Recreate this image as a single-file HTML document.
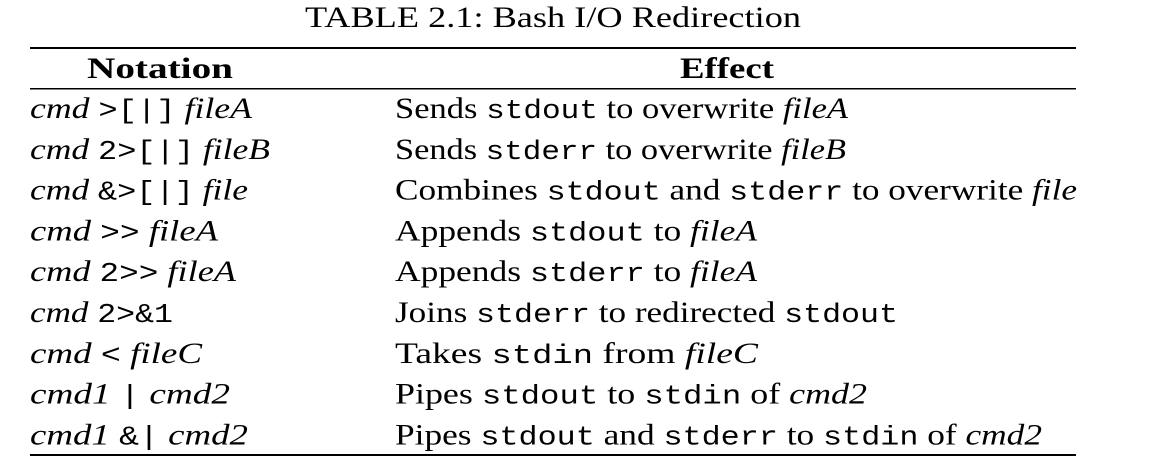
<!DOCTYPE html>
<html><head><meta charset="utf-8"><style>
html,body{margin:0;padding:0;background:#fff;}
svg{display:block;}
.s{font-family:"Liberation Serif",serif;font-size:30px;fill:#000;white-space:pre;}
.i{font-style:italic;}
.m{font-family:"Liberation Mono",monospace;font-size:27px;}
.b{font-weight:bold;}
</style></head><body>
<svg width="1156" height="471" viewBox="0 0 1156 471">
<text class="s" x="305" y="27" textLength="496" lengthAdjust="spacingAndGlyphs">TABLE 2.1: Bash I/O Redirection</text>
<rect x="30" y="47" width="1046" height="2" fill="#000"/>
<text class="s b" x="87" y="78" textLength="146" lengthAdjust="spacingAndGlyphs">Notation</text>
<text class="s b" x="680" y="78" textLength="94" lengthAdjust="spacingAndGlyphs">Effect</text>
<rect x="30" y="88" width="1046" height="1.5" fill="#000"/>
<g id="rows"></g>
<rect x="30" y="454" width="1046" height="2" fill="#000"/>
</svg>
<script>
// segments: [text, class]
const notations = [
 [["cmd","i"],[" ",""],[">[|]","m"],[" ",""],["fileA","i"]],
 [["cmd","i"],[" ",""],["2>[|]","m"],[" ",""],["fileB","i"]],
 [["cmd","i"],[" ",""],["&>[|]","m"],[" ",""],["file","i"]],
 [["cmd","i"],[" ",""],[">>","m"],[" ",""],["fileA","i"]],
 [["cmd","i"],[" ",""],["2>>","m"],[" ",""],["fileA","i"]],
 [["cmd","i"],[" ",""],["2>&1","m"]],
 [["cmd","i"],[" ",""],["<","m"],[" ",""],["fileC","i"]],
 [["cmd1","i"],[" ",""],["|","m"],[" ",""],["cmd2","i"]],
 [["cmd1","i"],[" ",""],["&|","m"],[" ",""],["cmd2","i"]]
];
const effects = [
 [["Sends ",""],["stdout","m"],[" to overwrite ",""],["fileA","i"]],
 [["Sends ",""],["stderr","m"],[" to overwrite ",""],["fileB","i"]],
 [["Combines ",""],["stdout","m"],[" and ",""],["stderr","m"],[" to overwrite ",""],["file","i"]],
 [["Appends ",""],["stdout","m"],[" to ",""],["fileA","i"]],
 [["Appends ",""],["stderr","m"],[" to ",""],["fileA","i"]],
 [["Joins ",""],["stderr","m"],[" to redirected ",""],["stdout","m"]],
 [["Takes ",""],["stdin","m"],[" from ",""],["fileC","i"]],
 [["Pipes ",""],["stdout","m"],[" to ",""],["stdin","m"],[" of ",""],["cmd2","i"]],
 [["Pipes ",""],["stdout","m"],[" and ",""],["stderr","m"],[" to ",""],["stdin","m"],[" of ",""],["cmd2","i"]]
];
const col1End = [252,270,248,218,236,173,202,230,248];
const col2End = [848,846,1077,757,757,898,758,867,1042];
const NS="http://www.w3.org/2000/svg";
const g=document.getElementById('rows');
function mk(segs,x,y,end,name){
  const t=document.createElementNS(NS,'text');
  t.setAttribute('class','s');
  t.setAttribute('x',x);t.setAttribute('y',y);
  t.setAttribute('textLength',end-x);
  t.setAttribute('lengthAdjust','spacingAndGlyphs');
  
  
  segs.forEach(s=>{const sp=document.createElementNS(NS,'tspan');sp.textContent=s[0];if(s[1])sp.setAttribute('class',s[1]);t.appendChild(sp);});
  g.appendChild(t);
}
for(let r=0;r<notations.length;r++){
  const y=118+r*40.8;
  mk(notations[r],30,y,col1End[r],'notation-cell');
  mk(effects[r],395,y,col2End[r],'effect-cell');
}
</script>
</body></html>
